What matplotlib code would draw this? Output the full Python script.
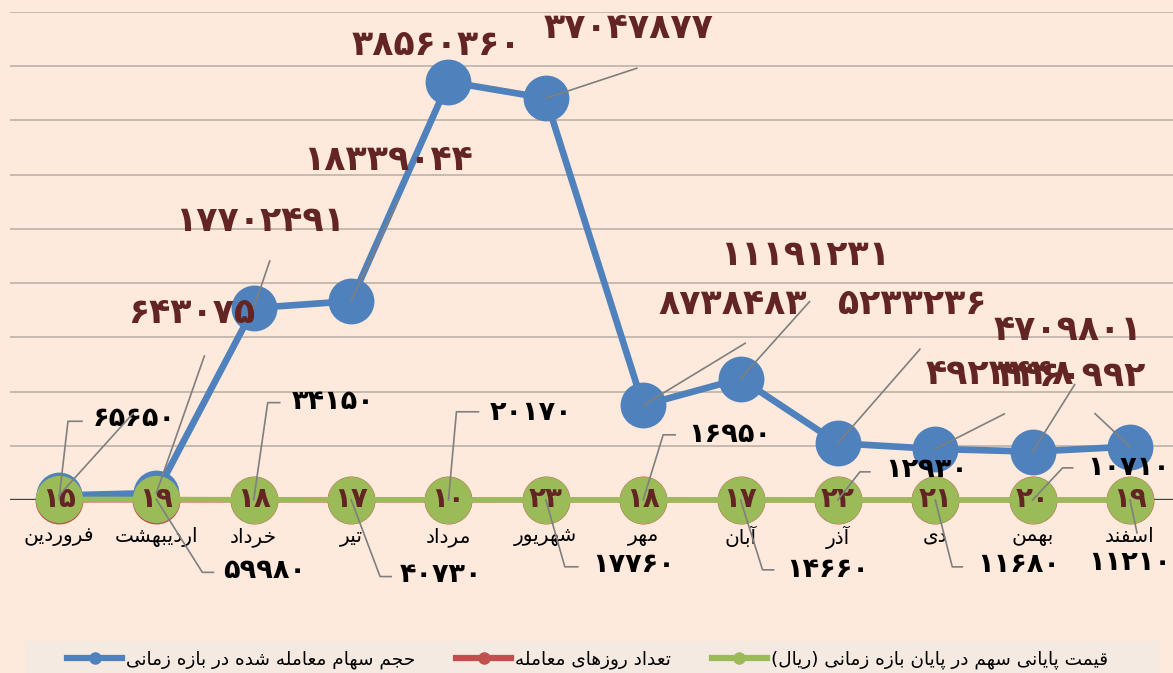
import numpy as np
import matplotlib
matplotlib.use("Agg")
import matplotlib.pyplot as plt
from matplotlib.lines import Line2D
from matplotlib.patches import Rectangle
from matplotlib.transforms import IdentityTransform

# ---------------- data ----------------
months = ['فروردین', 'اردیبهشت', 'خرداد', 'تیر', 'مرداد', 'شهریور',
          'مهر', 'آبان', 'آذر', 'دی', 'بهمن', 'اسفند']
volume = [420000, 643075, 17702491, 18339044, 38560360, 37047877,
          8738483, 11191231, 5233236, 4709801, 4460992, 4923448]
volume_label_shown = [False, True, True, True, True, True,
                      True, True, True, True, True, True]
trading_days = [15, 19, 18, 17, 10, 23, 18, 17, 22, 21, 20, 19]
close_price = [65650, 59980, 34150, 40730, 20170, 17760,
               16950, 14660, 12930, 11680, 10710, 11210]
series_names = ['حجم سهام معامله شده در بازه زمانی',
                'تعداد روزهای معامله',
                'قیمت پایانی سهم در پایان بازه زمانی (ریال)']
y_max = 45e6
y_step = 5e6

# ---------------- styles ----------------
BG = '#FDEADC'
LEGEND_BG = '#F4EAE1'
GRID = '#BDB2A7'
BLUE = '#4F81BD'
RED = '#C0504D'
GREEN = '#9BBB59'
DARKRED = '#632523'
LEADER = '#7F7F7F'
FONT = ['DejaVu Sans']

# ---------------- helpers ----------------
FA_DIGITS = str.maketrans('0123456789', '۰۱۲۳۴۵۶۷۸۹')

def fa_num(v):
    return str(v).translate(FA_DIGITS)

FORMS = {
    'ا': ('\uFE8D', '\uFE8E', None, None),
    'آ': ('\uFE81', '\uFE82', None, None),
    'ب': ('\uFE8F', '\uFE90', '\uFE91', '\uFE92'),
    'پ': ('\uFB56', '\uFB57', '\uFB58', '\uFB59'),
    'ت': ('\uFE95', '\uFE96', '\uFE97', '\uFE98'),
    'ج': ('\uFE9D', '\uFE9E', '\uFE9F', '\uFEA0'),
    'ح': ('\uFEA1', '\uFEA2', '\uFEA3', '\uFEA4'),
    'خ': ('\uFEA5', '\uFEA6', '\uFEA7', '\uFEA8'),
    'د': ('\uFEA9', '\uFEAA', None, None),
    'ذ': ('\uFEAB', '\uFEAC', None, None),
    'ر': ('\uFEAD', '\uFEAE', None, None),
    'ز': ('\uFEAF', '\uFEB0', None, None),
    'س': ('\uFEB1', '\uFEB2', '\uFEB3', '\uFEB4'),
    'ش': ('\uFEB5', '\uFEB6', '\uFEB7', '\uFEB8'),
    'ع': ('\uFEC9', '\uFECA', '\uFECB', '\uFECC'),
    'ف': ('\uFED1', '\uFED2', '\uFED3', '\uFED4'),
    'ق': ('\uFED5', '\uFED6', '\uFED7', '\uFED8'),
    'ل': ('\uFEDD', '\uFEDE', '\uFEDF', '\uFEE0'),
    'م': ('\uFEE1', '\uFEE2', '\uFEE3', '\uFEE4'),
    'ن': ('\uFEE5', '\uFEE6', '\uFEE7', '\uFEE8'),
    'ه': ('\uFEE9', '\uFEEA', '\uFEEB', '\uFEEC'),
    'و': ('\uFEED', '\uFEEE', None, None),
    'ی': ('\uFBFC', '\uFBFD', '\uFBFE', '\uFBFF'),
}

def shape(s):
    out = []
    n = len(s)
    for i, c in enumerate(s):
        f = FORMS.get(c)
        if f is None:
            out.append(c)
            continue
        prev = s[i - 1] if i > 0 else ''
        nxt = s[i + 1] if i < n - 1 else ''
        jp = prev in FORMS and FORMS[prev][2] is not None
        jn = f[2] is not None and nxt in FORMS
        if jp and jn:
            g = f[3]
        elif jp:
            g = f[1]
        elif jn:
            g = f[2]
        else:
            g = f[0]
        out.append(g)
    vis = ''.join(reversed(out))
    return vis.translate(str.maketrans('()', ')('))

# ---------------- figure ----------------
W, H = 1173, 673
fig = plt.figure(figsize=(W / 100, H / 100), dpi=100, facecolor=BG)
ax = fig.add_axes([10.3 / W, 173 / H, 1168.4 / W, 488 / H])
ax.set_facecolor(BG)
x = np.arange(len(months))
ax.set_xlim(-0.5, len(months) - 0.5)
ax.set_ylim(0, y_max)
ax.set_yticks(np.arange(y_step, y_max + 1, y_step))
ax.yaxis.grid(True, color=GRID, lw=1.2)
ax.set_axisbelow(True)
ax.tick_params(left=False, bottom=False, labelleft=False, labelbottom=False)
for sp in ax.spines.values():
    sp.set_visible(False)
ax.axhline(0, color='#404040', lw=2.4, zorder=1.5)

ax.plot(x, trading_days, color=RED, lw=3.6, marker='o', ms=33.5, zorder=2, clip_on=False)
ax.plot(x, volume, color=BLUE, lw=4.8, marker='o', ms=32, zorder=3, clip_on=False)
ax.plot(x, close_price, color=GREEN, lw=3.8, marker='o', ms=33, zorder=4, clip_on=False)

# month labels
for i, m in enumerate(months):
    ax.annotate(shape(m), xy=(i, 0), xytext=(0, -37), textcoords='offset pixels',
                ha='center', va='center', fontsize=14.5, family=FONT, color='black',
                annotation_clip=False, zorder=6)

def leader(anchor, pts):
    X, Y = ax.transData.transform(anchor)
    xs = [X] + [X + p[0] for p in pts]
    ys = [Y] + [Y - p[1] for p in pts]
    fig.add_artist(Line2D(xs, ys, transform=IdentityTransform(), color=LEADER, lw=1.2, zorder=5))

# trading days inside markers
for i, d in enumerate(trading_days):
    ax.annotate(fa_num(d), xy=(i, 0), xytext=(0, 1), textcoords='offset pixels',
                ha='center', va='center', fontsize=20, fontweight='bold', family=FONT,
                color=DARKRED, annotation_clip=False, zorder=7)

# close price labels (black) with bracket leaders
price_lbl = [  # (corner dx, corner dy), horizontal end dx, text left dx, text dy  (pixels; dy down)
    ((9, -78), 23, 34, -80),
    ((46, 73), 57, 67, 72),
    ((14, -97), 26, 38, -98),
    ((29, 77), 40, 49, 75),
    ((8, -88), 30, 41, -87),
    ((19, 67), 32, 46, 65),
    ((20, -65), 32, 45, -65),
    ((22, 70), 33, 46, 70),
    ((22, -28), 32, 47, -30),
    ((17, 67), 27, 42, 65),
    ((30, -32), 40, 55, -32),
    ((7, 33), None, -42, 63),
]
for i, (p, lab) in enumerate(zip(close_price, price_lbl)):
    corner, hend, tdx, tdy = lab
    pts = [corner] + ([(hend, corner[1])] if hend is not None else [])
    leader((i, p), pts)
    ax.annotate(fa_num(p), xy=(i, p), xytext=(tdx, -tdy), textcoords='offset pixels',
                ha='left', va='center', fontsize=19.5, fontweight='bold', family=FONT,
                color='black', annotation_clip=False, zorder=8)

# volume labels (dark red) with leaders
vol_lbl = [  # text centre (dx, dy), leader end (dx, dy) in pixels, dy down
    (None, (74, -82)),
    ((35, -180), (48, -137)),
    ((6, -87), (16, -47)),
    ((37, -141), (47, -101)),
    ((-12, -37), None),
    ((83, -70), (91, -30)),
    ((90, -101), (102, -62)),
    ((65, -124), (69, -77)),
    ((74, -139), (82, -94)),
    ((133, -119), (69, -35)),
    ((39, -76), (42, -67)),
    ((-130, -73), (-35, -33)),
]
for i, (v, show, lab) in enumerate(zip(volume, volume_label_shown, vol_lbl)):
    tpos, lend = lab
    if lend is not None:
        leader((i, v), [lend])
    if show and tpos is not None:
        ax.annotate(fa_num(v), xy=(i, v), xytext=(tpos[0], -tpos[1]), textcoords='offset pixels',
                    ha='center', va='center', fontsize=25, fontweight='bold', family=FONT,
                    color=DARKRED, annotation_clip=False, zorder=9)

# legend
fig.add_artist(Rectangle((25 / W, 0), (1160 - 25) / W, 32 / H, transform=fig.transFigure,
                         facecolor=LEGEND_BG, edgecolor='none', zorder=0))
handles = [Line2D([], [], color=c, lw=4.5, marker='o', ms=8) for c in (BLUE, RED, GREEN)]
fig.legend(handles, [shape(s) for s in series_names], loc='center left',
           bbox_to_anchor=(67 / W, 1 - 660 / H), ncol=3, frameon=False,
           borderpad=0, borderaxespad=0,
           handlelength=3.0, handletextpad=0.2, columnspacing=2.2,
           prop={'family': FONT, 'size': 13.3})

fig.savefig('out.png', dpi=100, facecolor=BG)
